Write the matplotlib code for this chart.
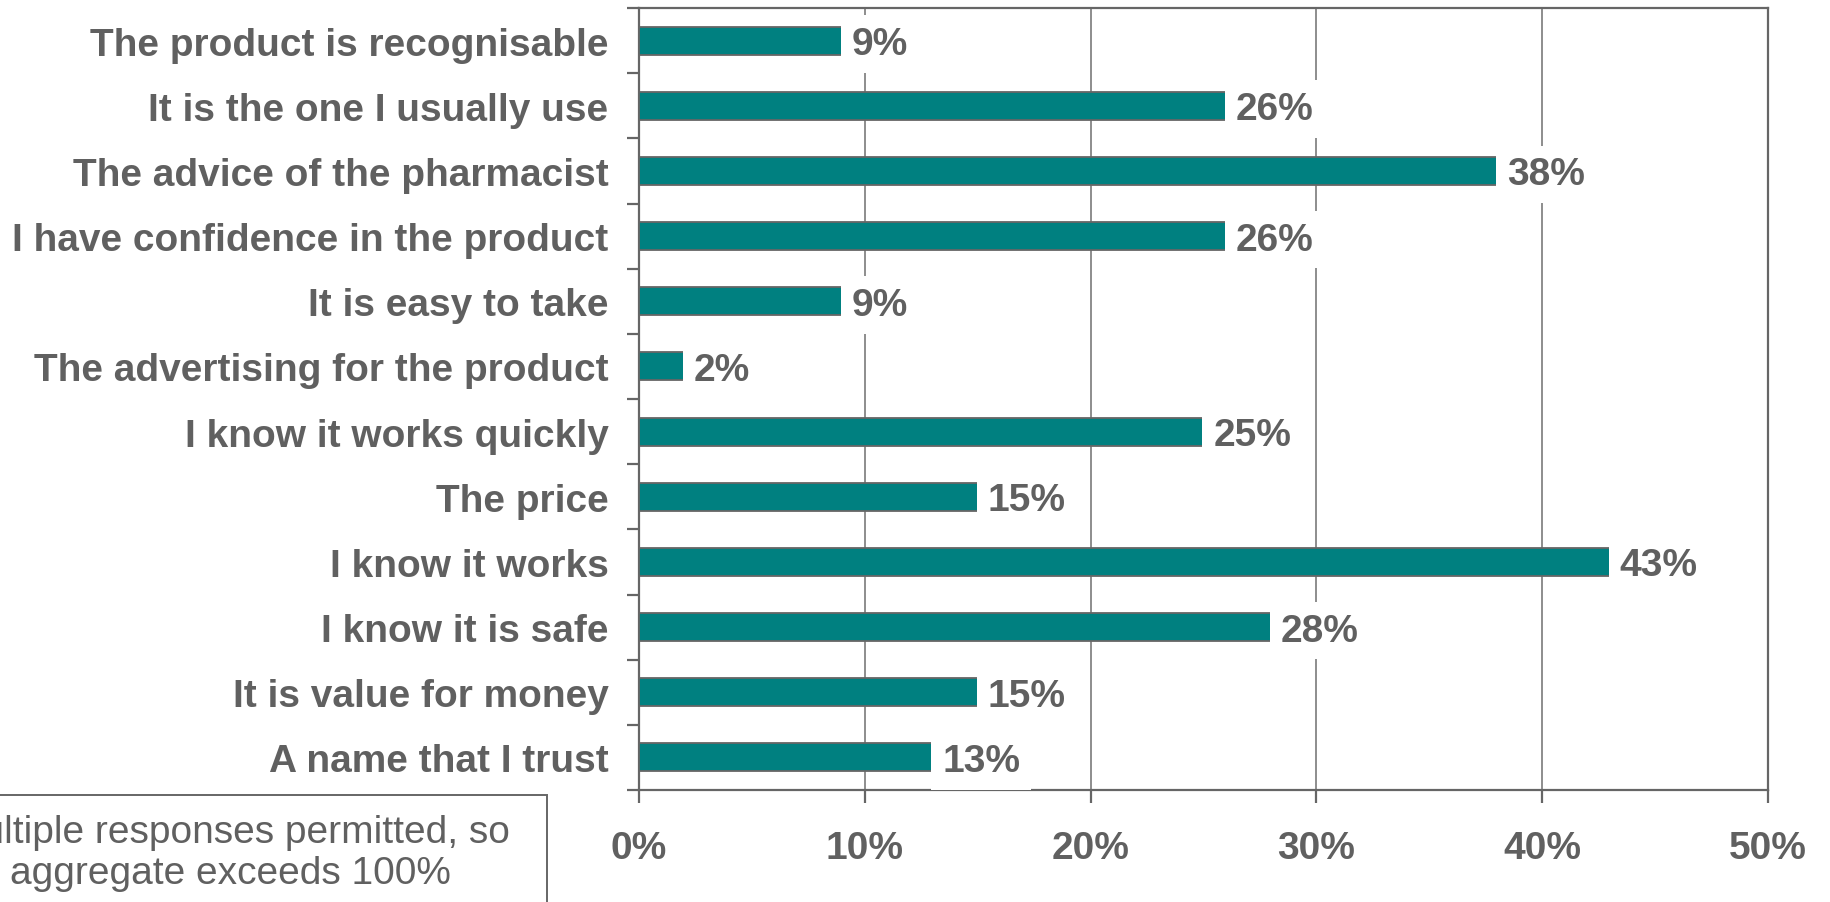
from matplotlib import pyplot
from matplotlib.patches import Rectangle
import numpy

reasons = [
    'The product is recognisable',
    'It is the one I usually use',
    'The advice of the pharmacist',
    'I have confidence in the product',
    'It is easy to take',
    'The advertising for the product',
    'I know it works quickly',
    'The price',
    'I know it works',
    'I know it is safe',
    'It is value for money',
    'A name that I trust',
]
shares = [9, 26, 38, 26, 9, 2, 25, 15, 43, 28, 15, 13]
x_ticks = [0, 10, 20, 30, 40, 50]
note_lines = ['Multiple responses permitted, so', 'aggregate exceeds 100%']

TEAL = '#008080'
GREY = '#666666'
TEXT = '#606060'

pyplot.rcParams['font.family'] = ['Liberation Sans', 'DejaVu Sans']

fig = pyplot.figure(figsize=(18.3, 9.03), dpi=100)
ax = fig.add_axes([0.3492, 0.124, 0.6169, 0.866])

y = numpy.arange(len(reasons))[::-1]
ax.barh(y, shares, height=0.43, color=TEAL, edgecolor=GREY, linewidth=1.3, zorder=3)

# value labels sit on white boxes that cut through the grid lines
for yi, v in zip(y, shares):
    ax.annotate(f'{v}%', xy=(v, yi), xytext=(7, -9.7), textcoords='offset points',
                ha='left', va='baseline', fontsize=28, fontweight='bold', color=TEXT,
                bbox=dict(boxstyle='square,pad=0.28', facecolor='white', edgecolor='none'),
                zorder=4)

ax.set_xlim(0, 50)
ax.set_ylim(-0.5, len(reasons) - 0.5)
ax.set_xticks(x_ticks)
ax.set_xticklabels([f'{t}%' for t in x_ticks])
ax.set_yticks(y)
ax.set_yticklabels(reasons)
ax.set_yticks(numpy.arange(-0.5, len(reasons), 1), minor=True)

ax.xaxis.grid(True, color='#7a7a7a', linewidth=1.2, zorder=1)
ax.set_axisbelow(True)

for s in ax.spines.values():
    s.set_color(GREY)
    s.set_linewidth(1.6)

ax.tick_params(axis='y', which='major', length=0, pad=22, labelsize=28, labelcolor=TEXT)
ax.tick_params(axis='y', which='minor', length=9, width=1.6, color=GREY, direction='out')
ax.tick_params(axis='x', length=9, width=1.6, color=GREY, direction='out', pad=20,
               labelsize=28, labelcolor=TEXT)
for lbl in ax.get_xticklabels() + ax.get_yticklabels():
    lbl.set_fontweight('bold')

# footnote box in the lower-left corner, partly running off the canvas
fig.patches.append(Rectangle((-0.1, -0.2), 0.3989, 0.3185, transform=fig.transFigure,
                             facecolor='white', edgecolor=GREY, linewidth=1.4))
fig.text(0.1257, 0.0664, note_lines[0], ha='center', va='baseline', fontsize=28, color=TEXT)
fig.text(0.1257, 0.0210, note_lines[1], ha='center', va='baseline', fontsize=28, color=TEXT)

fig.savefig('out.png', dpi=100)
